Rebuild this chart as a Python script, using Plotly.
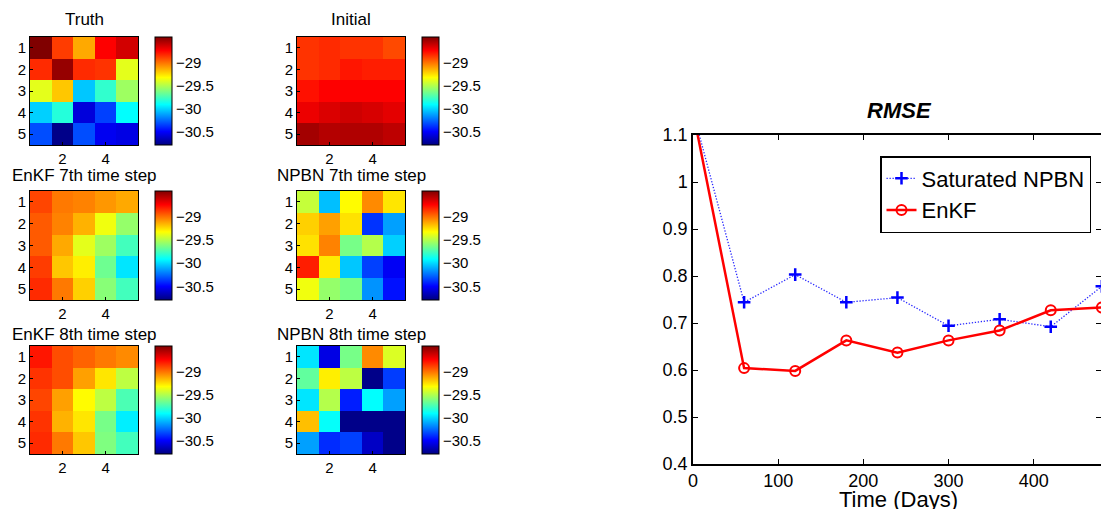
import plotly.graph_objects as go

W, H = 1101, 509

# ---------------- data ----------------
grid_idx = [1, 2, 3, 4, 5]

truth = [[-28.45, -28.88, -29.13, -28.74, -28.64],
         [-28.84, -28.50, -28.84, -28.86, -29.39],
         [-29.39, -29.20, -30.04, -29.80, -29.55],
         [-30.02, -29.83, -30.58, -30.35, -29.91],
         [-30.32, -30.77, -30.32, -30.53, -30.56]]

initial = [[-28.86, -28.84, -28.86, -28.86, -28.91],
           [-28.86, -28.84, -28.79, -28.81, -28.81],
           [-28.78, -28.74, -28.74, -28.74, -28.74],
           [-28.70, -28.66, -28.63, -28.65, -28.68],
           [-28.53, -28.57, -28.56, -28.56, -28.59]]

enkf7 = [[-28.90, -29.02, -29.04, -29.09, -29.13],
         [-28.95, -29.04, -29.15, -29.36, -29.57],
         [-28.95, -29.13, -29.39, -29.55, -29.76],
         [-28.88, -29.20, -29.29, -29.66, -29.97],
         [-28.84, -29.02, -29.22, -29.60, -29.76]]

npbn7 = [[-29.46, -30.06, -29.32, -29.06, -29.27],
         [-29.22, -29.11, -29.26, -30.38, -30.13],
         [-29.26, -29.04, -29.64, -29.50, -30.02],
         [-28.81, -29.28, -30.04, -30.35, -30.52],
         [-29.36, -29.57, -29.64, -30.16, -30.46]]

enkf8 = [[-28.79, -28.92, -28.97, -29.02, -29.06],
         [-28.86, -28.92, -29.11, -29.27, -29.48],
         [-28.90, -29.11, -29.32, -29.48, -29.74],
         [-28.86, -29.15, -29.27, -29.64, -29.95],
         [-28.84, -29.02, -29.20, -29.62, -29.76]]

npbn8 = [[-29.97, -30.56, -29.64, -29.06, -29.41],
         [-29.69, -29.29, -29.48, -30.77, -30.36],
         [-29.97, -29.50, -30.43, -29.91, -30.13],
         [-29.18, -29.90, -30.77, -30.77, -30.77],
         [-30.13, -30.40, -30.35, -30.63, -30.77]]

panel_titles = ["Truth", "Initial", "EnKF 7th time step", "NPBN 7th time step",
                "EnKF 8th time step", "NPBN 8th time step"]
panel_data = [truth, initial, enkf7, npbn7, enkf8, npbn8]

cbar_tickvals = [-29, -29.5, -30, -30.5]
cbar_ticktext = ["\u221229", "\u221229.5", "\u221230", "\u221230.5"]
zmin, zmax = -30.79, -28.45

time_days = [0, 60, 120, 180, 240, 300, 360, 420, 480]
rmse_npbn = [1.15, 0.744, 0.803, 0.744, 0.754, 0.694, 0.708, 0.692, 0.778]
rmse_enkf = [1.15, 0.604, 0.598, 0.663, 0.637, 0.663, 0.684, 0.727, 0.733]

# ---------------- helpers ----------------
FONT = "Liberation Sans, Arial, Helvetica, sans-serif"


def px(x):
    return x / W


def py(y):
    return 1 - y / H


jet = [[0.0, "rgb(0,0,128)"], [0.125, "rgb(0,0,255)"], [0.375, "rgb(0,255,255)"],
       [0.625, "rgb(255,255,0)"], [0.875, "rgb(255,0,0)"], [1.0, "rgb(128,0,0)"]]

col_x = [(30, 138, 155), (297, 405, 422)]          # heatmap left, right, colorbar left
row_y = [(37, 145, 19), (191, 300, 174), (346, 454, 333)]  # top, bottom, title center

fig = go.Figure()
layout = dict(width=W, height=H,
              margin=dict(l=0, r=0, t=0, b=0, pad=0, autoexpand=False),
              paper_bgcolor="white", plot_bgcolor="white",
              font=dict(family=FONT, color="black"), showlegend=True)
annotations = []

k = 0
for r in range(3):
    for c in range(2):
        k += 1
        xa = "x" if k == 1 else f"x{k}"
        ya = "y" if k == 1 else f"y{k}"
        x0, x1, cbx = col_x[c]
        y0, y1, ty = row_y[r]
        fig.add_trace(go.Heatmap(
            z=panel_data[k - 1], x=grid_idx, y=grid_idx, xaxis=xa, yaxis=ya,
            colorscale=jet, zmin=zmin, zmax=zmax, showlegend=False,
            colorbar=dict(x=px(cbx), xanchor="left", xpad=0,
                          y=py((y0 + y1) / 2), yanchor="middle", ypad=0,
                          len=(y1 - y0) / H, lenmode="fraction",
                          thickness=17, thicknessmode="pixels",
                          outlinewidth=1, outlinecolor="black",
                          tickvals=cbar_tickvals, ticktext=cbar_ticktext,
                          ticks="", tickfont=dict(size=15, family=FONT))))
        layout["xaxis" if k == 1 else f"xaxis{k}"] = dict(
            domain=[px(x0), px(x1)], anchor=ya, range=[0.5, 5.5],
            tickvals=[2, 4], ticks="inside", ticklen=3, tickcolor="black",
            showline=True, linecolor="black", linewidth=1, mirror=True,
            showgrid=False, zeroline=False, tickfont=dict(size=15))
        layout["yaxis" if k == 1 else f"yaxis{k}"] = dict(
            domain=[py(y1), py(y0)], anchor=xa, range=[5.5, 0.5],
            tickvals=grid_idx, ticks="inside", ticklen=3, tickcolor="black",
            showline=True, linecolor="black", linewidth=1, mirror=True,
            showgrid=False, zeroline=False, tickfont=dict(size=15))
        annotations.append(dict(text=panel_titles[k - 1], x=px((x0 + x1) / 2),
                                y=py(ty + 1), xref="paper", yref="paper",
                                xanchor="center", yanchor="middle",
                                showarrow=False, font=dict(size=17)))

# ---------------- RMSE line plot ----------------
fig.add_trace(go.Scatter(
    x=time_days, y=rmse_npbn, xaxis="x7", yaxis="y7", name="Saturated NPBN",
    mode="lines+markers",
    line=dict(color="rgb(40,40,255)", width=1.3, dash="1.3px,1.7px"),
    marker=dict(symbol="cross-thin", size=9, color="rgb(0,0,255)",
                line=dict(color="rgb(0,0,255)", width=2.5))))
fig.add_trace(go.Scatter(
    x=time_days, y=rmse_enkf, xaxis="x7", yaxis="y7", name="EnKF",
    mode="lines+markers",
    line=dict(color="rgb(255,0,0)", width=2.5),
    marker=dict(symbol="circle-open", size=10, color="rgb(255,0,0)",
                line=dict(color="rgb(255,0,0)", width=2))))

layout["xaxis7"] = dict(domain=[px(693), 1.0], anchor="y7", range=[0, 479],
                        tickvals=[0, 100, 200, 300, 400], ticks="inside",
                        ticklen=5, tickcolor="black", showline=True,
                        linecolor="black", linewidth=1.5, mirror="ticks",
                        showgrid=False, zeroline=False, tickfont=dict(size=18))
layout["yaxis7"] = dict(domain=[py(464), py(135)], anchor="x7", range=[0.4, 1.1],
                        tickvals=[0.4, 0.5, 0.6, 0.7, 0.8, 0.9, 1.0, 1.1],
                        ticktext=["0.4", "0.5", "0.6", "0.7", "0.8", "0.9", "1", "1.1"],
                        ticks="inside", ticklen=5, tickcolor="black",
                        showline=True, linecolor="black", linewidth=1.5,
                        mirror="ticks", showgrid=False, zeroline=False,
                        tickfont=dict(size=18))
annotations.append(dict(text="<b><i>RMSE</i></b>", x=px(899), y=py(110),
                        xref="paper", yref="paper", xanchor="center",
                        yanchor="middle", showarrow=False, font=dict(size=22)))
annotations.append(dict(text="Time (Days)", x=px(898), y=py(499),
                        xref="paper", yref="paper", xanchor="center",
                        yanchor="middle", showarrow=False, font=dict(size=22)))

layout["legend"] = dict(x=px(880), y=py(156), xanchor="left", yanchor="top",
                        bordercolor="black", borderwidth=1.5, bgcolor="white",
                        font=dict(size=22), tracegroupgap=0, itemwidth=30)
layout["annotations"] = annotations
fig.update_layout(**layout)

fig.write_html(
    "out.html",
    config={"displayModeBar": False},
    post_script="document.body.style.margin='0';"
                "document.documentElement.style.overflow='hidden';"
                "document.body.style.overflow='hidden';")
